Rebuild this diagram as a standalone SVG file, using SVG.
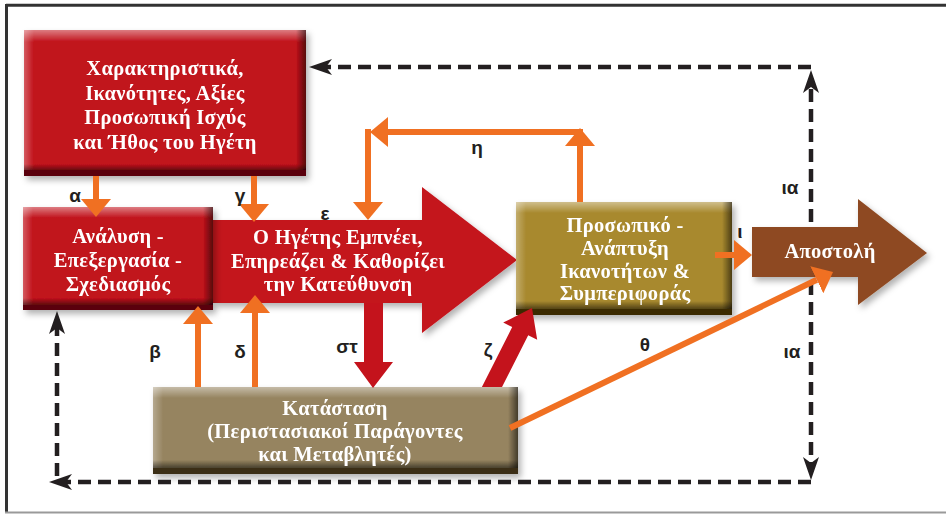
<svg xmlns="http://www.w3.org/2000/svg" width="946" height="514" viewBox="0 0 946 514">
  <style>
    .box-text { font-family: "Liberation Serif", "Times New Roman", serif; font-weight: bold; font-size: 20.5px; letter-spacing: 0.3px; fill: #ffffff; text-anchor: middle; }
    .lbl { font-family: "Liberation Sans", Arial, sans-serif; font-weight: bold; font-size: 19px; fill: #231f20; text-anchor: middle; }
    .orange { fill: none; stroke: #f07022; stroke-width: 6; }
    .dash { fill: none; stroke: #231f20; stroke-width: 4.5; stroke-dasharray: 13 7; }
    .red { fill: #c4131c; }
    .hl { fill: url(#hiTop); }
    .lo { fill: url(#loBottom); }
    .rt { fill: url(#loRight); }
    .lf { fill: url(#hiLeft); }
  </style>
  <defs>
    <linearGradient id="hiTop" x1="0" y1="0" x2="0" y2="1">
      <stop offset="0" stop-color="#ffffff" stop-opacity="0.45"/>
      <stop offset="1" stop-color="#ffffff" stop-opacity="0"/>
    </linearGradient>
    <linearGradient id="loBottom" x1="0" y1="0" x2="0" y2="1">
      <stop offset="0" stop-color="#000000" stop-opacity="0"/>
      <stop offset="0.5" stop-color="#000000" stop-opacity="0.45"/>
      <stop offset="1" stop-color="#000000" stop-opacity="0.7"/>
    </linearGradient>
    <linearGradient id="loRight" x1="0" y1="0" x2="1" y2="0">
      <stop offset="0" stop-color="#000000" stop-opacity="0"/>
      <stop offset="1" stop-color="#000000" stop-opacity="0.55"/>
    </linearGradient>
    <linearGradient id="hiLeft" x1="0" y1="0" x2="1" y2="0">
      <stop offset="0" stop-color="#ffffff" stop-opacity="0.3"/>
      <stop offset="1" stop-color="#ffffff" stop-opacity="0"/>
    </linearGradient>
    <filter id="shadow" x="-10%" y="-10%" width="125%" height="130%">
      <feDropShadow dx="3" dy="4" stdDeviation="3" flood-color="#000000" flood-opacity="0.3"/>
    </filter>
    <!-- solid orange arrowhead; the path ends at the head's base -->
    <marker id="headOrange" markerUnits="userSpaceOnUse" viewBox="0 -15 18 30" refX="0" refY="0" markerWidth="18" markerHeight="30" orient="auto">
      <path d="M0,-15 L18,0 L0,15 Z" fill="#f07022"/>
    </marker>
    <!-- barbed black arrowhead for the dashed feedback lines; tip lies 10 past the path end -->
    <marker id="headBlack" markerUnits="userSpaceOnUse" viewBox="-14 -9 25 18" refX="0" refY="0" markerWidth="25" markerHeight="18" orient="auto">
      <path d="M10,0 L-13,-8 L-7,0 L-13,8 Z" fill="#231f20"/>
    </marker>
  </defs>

  <!-- frame -->
  <rect x="0" y="0" width="946" height="514" fill="#ffffff"/>
  <path d="M6,5.3 H946" stroke="#333333" stroke-width="3" fill="none"/>
  <path d="M6.5,4 V512" stroke="#333333" stroke-width="3" fill="none"/>
  <path d="M5,512.5 H946" stroke="#9a9a9a" stroke-width="2" fill="none"/>

  <!-- central direction arrow -->
  <g id="node-leader-direction" filter="url(#shadow)">
    <polygon class="red" points="213,220 422,220 422,187 517,260 422,333 422,303 213,303"/>
    <text class="box-text" x="338" y="244">Ο Ηγέτης Εμπνέει,</text>
    <text class="box-text" x="338" y="267.5">Επηρεάζει &amp; Καθορίζει</text>
    <text class="box-text" x="338" y="291">την Κατεύθυνση</text>
  </g>

  <!-- leader traits -->
  <g id="node-traits" filter="url(#shadow)">
    <rect x="24" y="30" width="282" height="146" fill="#c1121b"/>
    <rect class="lf" x="24" y="30" width="10" height="146"/>
    <rect class="hl" x="24" y="30" width="282" height="12"/>
    <rect class="rt" x="296" y="30" width="10" height="146"/>
    <rect class="lo" x="24" y="164" width="282" height="12"/>
    <rect x="24" y="170" width="282" height="6" fill="#5a0608"/>
    <text class="box-text" x="165" y="75">Χαρακτηριστικά,</text>
    <text class="box-text" x="165" y="99.5">Ικανότητες, Αξίες</text>
    <text class="box-text" x="165" y="124">Προσωπική Ισχύς</text>
    <text class="box-text" x="165" y="148.5">και Ήθος του Ηγέτη</text>
  </g>

  <!-- analysis / planning -->
  <g id="node-analysis" filter="url(#shadow)">
    <rect x="23" y="207" width="190" height="103" fill="#c1121b"/>
    <rect class="lf" x="23" y="207" width="10" height="103"/>
    <rect class="hl" x="23" y="207" width="190" height="11"/>
    <rect class="rt" x="203" y="207" width="10" height="103"/>
    <rect class="lo" x="23" y="298" width="190" height="12"/>
    <rect x="23" y="305" width="190" height="5" fill="#5a0608"/>
    <text class="box-text" x="118" y="243">Ανάλυση -</text>
    <text class="box-text" x="118" y="267">Επεξεργασία -</text>
    <text class="box-text" x="118" y="291">Σχεδιασμός</text>
  </g>

  <!-- staff development -->
  <g id="node-staff" filter="url(#shadow)">
    <rect x="516" y="202" width="216" height="113" fill="#a8892e"/>
    <rect class="lf" x="516" y="202" width="10" height="113"/>
    <rect class="hl" x="516" y="202" width="216" height="11"/>
    <rect class="rt" x="722" y="202" width="10" height="113"/>
    <rect class="lo" x="516" y="301" width="216" height="14"/>
    <rect x="516" y="309" width="216" height="6" fill="#3a2a05"/>
    <text class="box-text" x="625" y="232">Προσωπικό -</text>
    <text class="box-text" x="625" y="255">Ανάπτυξη</text>
    <text class="box-text" x="625" y="278">Ικανοτήτων &amp;</text>
    <text class="box-text" x="625" y="300">Συμπεριφοράς</text>
  </g>

  <!-- situation -->
  <g id="node-situation" filter="url(#shadow)">
    <rect x="153" y="387" width="365" height="87" fill="#968460"/>
    <rect class="lf" x="153" y="387" width="10" height="87"/>
    <rect class="hl" x="153" y="387" width="365" height="11"/>
    <rect class="rt" x="508" y="387" width="10" height="87"/>
    <rect class="lo" x="153" y="460" width="365" height="14"/>
    <rect x="153" y="468" width="365" height="6" fill="#3b2f12"/>
    <text class="box-text" x="335" y="415">Κατάσταση</text>
    <text class="box-text" x="335" y="438">(Περιστασιακοί Παράγοντες</text>
    <text class="box-text" x="335" y="461">και Μεταβλητές)</text>
  </g>

  <!-- mission -->
  <g id="node-mission" filter="url(#shadow)">
    <polygon points="752,227 858,227 858,199 927,253 858,305 858,277 752,277" fill="#8e4a22"/>
    <text class="box-text" x="830" y="258">Αποστολή</text>
  </g>

  <!-- connectors -->
  <g id="connectors">
    <!-- dashed feedback (ια) -->
    <path class="dash" d="M811,222 V80" marker-end="url(#headBlack)"/>
    <path class="dash" d="M811,67 H319" marker-end="url(#headBlack)"/>
    <path class="dash" d="M811,282 V470" marker-end="url(#headBlack)"/>
    <path class="dash" d="M811,482 H59" marker-end="url(#headBlack)"/>
    <path class="dash" d="M57,476 V321" marker-end="url(#headBlack)"/>

    <!-- α, γ -->
    <path class="orange" d="M96,176 V199" marker-end="url(#headOrange)"/>
    <path class="orange" d="M254,176 V204" marker-end="url(#headOrange)"/>
    <!-- β, δ -->
    <path class="orange" d="M198,387 V324" marker-end="url(#headOrange)"/>
    <path class="orange" d="M255,387 V313" marker-end="url(#headOrange)"/>
    <!-- η loop -->
    <path class="orange" d="M580,202 V146" marker-end="url(#headOrange)"/>
    <path class="orange" d="M583,132 H388" marker-end="url(#headOrange)"/>
    <path class="orange" d="M368,129 V202" marker-end="url(#headOrange)"/>
    <!-- ι -->
    <path class="orange" d="M715,255 H734" marker-end="url(#headOrange)"/>
    <!-- θ -->
    <path class="orange" d="M510,428 L816.8,279.8" marker-end="url(#headOrange)"/>

    <!-- στ -->
    <polygon class="red" points="364,303 383,303 383,362 393,362 373,388 354,362 364,362"/>
    <!-- ζ -->
    <polygon class="red" points="481.9,387 502,387 528.2,335.3 537.2,339.8 532,308 503.2,322.6 512.2,327.1"/>
  </g>

  <!-- connector labels -->
  <g id="labels">
    <text class="lbl" x="75" y="202">α</text>
    <text class="lbl" x="240" y="202">γ</text>
    <text class="lbl" x="325" y="220">ε</text>
    <text class="lbl" x="155" y="358">β</text>
    <text class="lbl" x="240" y="358">δ</text>
    <text class="lbl" x="347" y="353">στ</text>
    <text class="lbl" x="488" y="356">ζ</text>
    <text class="lbl" x="477" y="154">η</text>
    <text class="lbl" x="645" y="351">θ</text>
    <text class="lbl" x="740" y="238">ι</text>
    <text class="lbl" x="790" y="194">ια</text>
    <text class="lbl" x="792" y="358">ια</text>
  </g>
</svg>
